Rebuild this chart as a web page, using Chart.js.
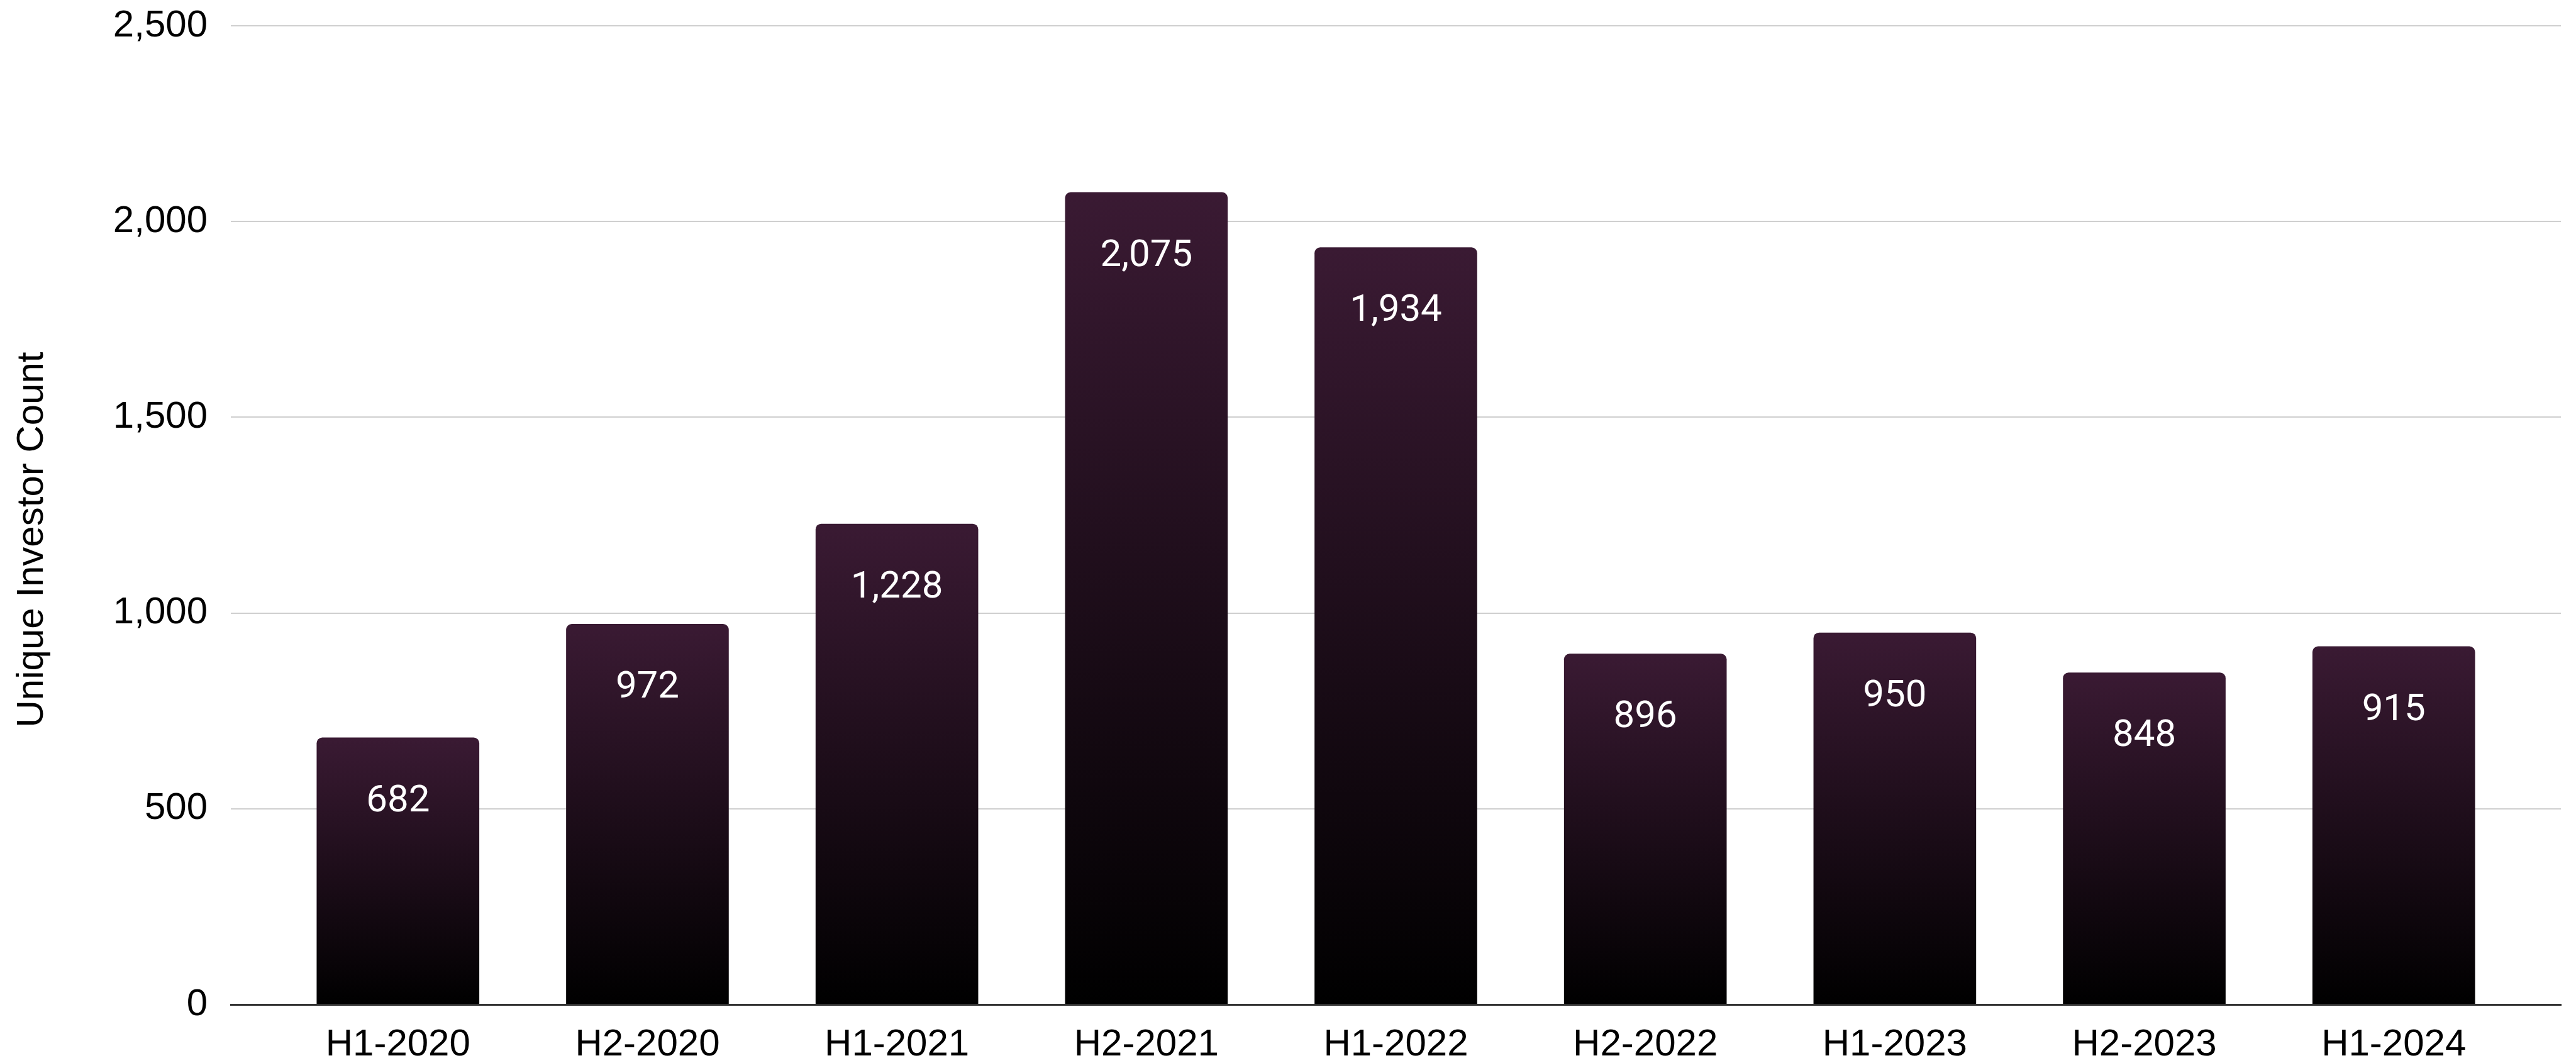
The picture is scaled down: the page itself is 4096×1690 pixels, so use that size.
<!DOCTYPE html>
<html>
<head>
<meta charset="utf-8">
<title>Unique Investor Count</title>
<script src="https://cdn.jsdelivr.net/npm/chart.js@4.4.1/dist/chart.umd.min.js"></script>
<style>
  html, body { margin: 0; padding: 0; background: #ffffff; }
  canvas { display: block; }
</style>
</head>
<body>
<canvas id="investorChart" width="4096" height="1690"></canvas>
<script>
// Half-year periods and the unique investor count for each
var periods = ["H1-2020", "H2-2020", "H1-2021", "H2-2021", "H1-2022", "H2-2022", "H1-2023", "H2-2023", "H1-2024"];
var investorCounts = [682, 972, 1228, 2075, 1934, 896, 950, 848, 915];
var yTicks = [0, 500, 1000, 1500, 2000, 2500];

var axisFont = "'Liberation Sans', Arial, sans-serif";
var labelFont = "Roboto, 'Noto Sans', sans-serif";

function fmt(v) {
    return Number(v).toLocaleString("en-US");
}

// Vertical purple-to-black fill, computed per bar from its own height
function barGradient(ctx) {
    var chart = ctx.chart;
    if (!chart.chartArea || !ctx.raw) return "#2a1326";
    var yScale = chart.scales.y;
    var top = yScale.getPixelForValue(ctx.raw.y);
    var bottom = yScale.getPixelForValue(0);
    var g = chart.ctx.createLinearGradient(0, top, 0, bottom);
    g.addColorStop(0, "#3a1a33");
    g.addColorStop(1, "#000000");
    return g;
}

// Value labels inside the top of each bar
var valueLabels = {
    id: "valueLabels",
    afterDatasetsDraw: function(chart) {
        var ctx = chart.ctx;
        var meta = chart.getDatasetMeta(0);
        ctx.save();
        ctx.fillStyle = "#ffffff";
        ctx.font = "60px " + labelFont;
        ctx.textAlign = "center";
        ctx.textBaseline = "middle";
        meta.data.forEach(function(bar, i) {
            ctx.fillText(fmt(investorCounts[i]), bar.x, bar.y + 102);
        });
        ctx.restore();
    }
};

// Rotated y-axis title
var yTitle = {
    id: "yTitle",
    afterDraw: function(chart) {
        var ctx = chart.ctx;
        ctx.save();
        ctx.translate(51, 858);
        ctx.rotate(-Math.PI / 2);
        ctx.fillStyle = "#000000";
        ctx.font = "60px " + axisFont;
        ctx.textAlign = "center";
        ctx.textBaseline = "middle";
        ctx.fillText("Unique Investor Count", 0, 0);
        ctx.restore();
    }
};

var ctx = document.getElementById("investorChart").getContext("2d");

var investorChart = new Chart(ctx, {
    type: "bar",
    data: {
        datasets: [{
            label: "Unique Investor Count",
            data: investorCounts.map(function(v, i) { return { x: i, y: v }; }),
            backgroundColor: barGradient,
            borderWidth: 0,
            borderRadius: { topLeft: 9, topRight: 9, bottomLeft: 0, bottomRight: 0 },
            borderSkipped: "start",
            categoryPercentage: 1,
            barPercentage: 0.652
        }]
    },
    options: {
        responsive: false,
        animation: false,
        layout: {
            padding: { top: 41, right: 24, bottom: 0, left: 0 }
        },
        plugins: {
            legend: { display: false },
            tooltip: { enabled: false }
        },
        scales: {
            x: {
                type: "linear",
                offset: false,
                min: -0.67,
                max: 8.67,
                afterBuildTicks: function(scale) {
                    scale.ticks = periods.map(function(p, i) { return { value: i }; });
                },
                afterFit: function(scale) {
                    scale.height = 93;
                },
                grid: { display: false, drawTicks: false },
                border: { display: true, color: "#333333", width: 3 },
                ticks: {
                    padding: 28,
                    color: "#000000",
                    font: { family: axisFont, size: 60 },
                    maxRotation: 0,
                    autoSkip: false,
                    callback: function(value) {
                        return periods[value] !== undefined ? periods[value] : "";
                    }
                }
            },
            y: {
                min: 0,
                max: 2500,
                afterBuildTicks: function(scale) {
                    scale.ticks = yTicks.map(function(v) { return { value: v }; });
                },
                afterFit: function(scale) {
                    scale.width = 367;
                    scale.paddingTop = 0;
                    scale.paddingBottom = 0;
                },
                grid: {
                    color: "#cfcfcf",
                    lineWidth: 2,
                    drawTicks: false
                },
                border: { display: false },
                ticks: {
                    padding: 37,
                    color: "#000000",
                    font: { family: axisFont, size: 60 },
                    callback: function(value) { return fmt(value); }
                }
            }
        }
    },
    plugins: [valueLabels, yTitle]
});
</script>
</body>
</html>
